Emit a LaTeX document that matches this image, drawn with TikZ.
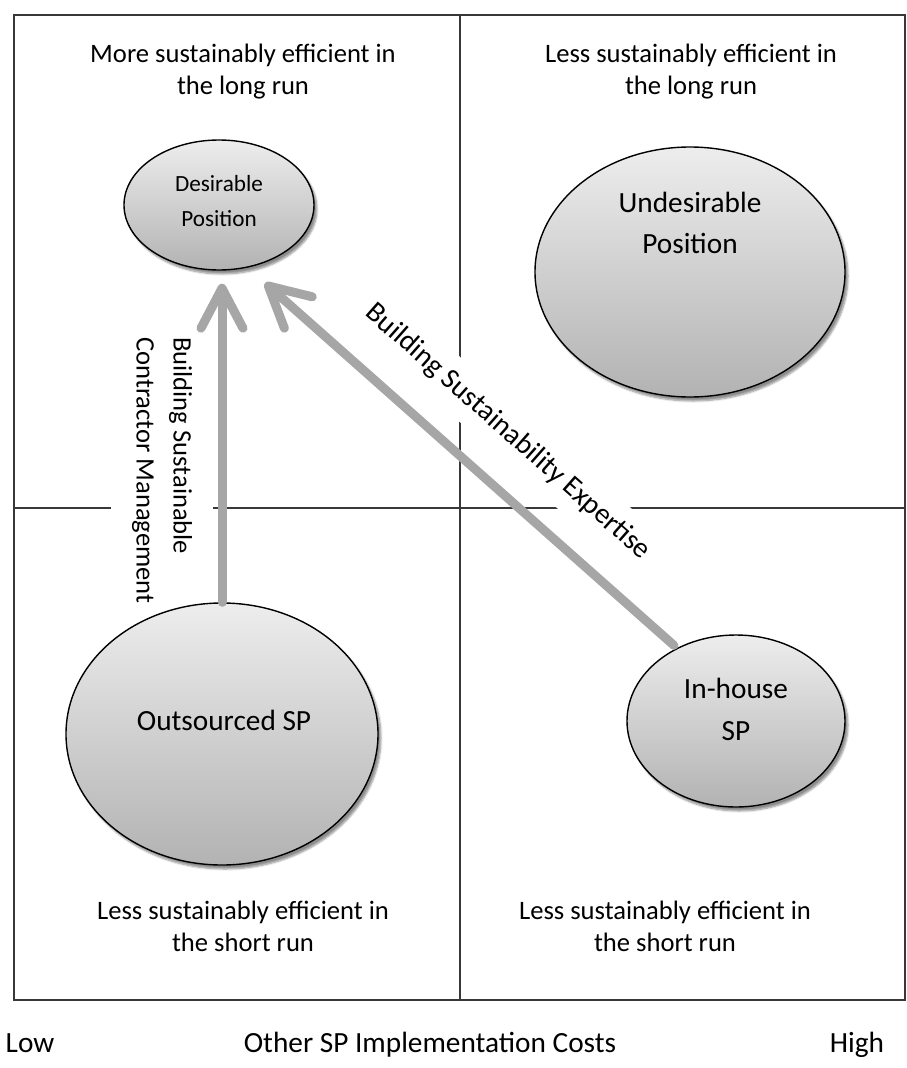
\documentclass[tikz,border=0pt]{standalone}
\usepackage{fontspec}
\setmainfont{Carlito}
\usetikzlibrary{arrows.meta,shapes.geometric,shadows.blur}
\begin{document}
\begin{tikzpicture}[x=1pt,y=-1pt,
  gridline/.style={draw=black!78, line width=1.3pt},
  quad/.style={align=center, font=\fontsize{26.6}{32}\selectfont, inner sep=0pt},
  oval/.style={ellipse, draw=black, line width=1.4pt, top color=black!7, bottom color=black!30,
    blur shadow={shadow xshift=3pt, shadow yshift=-4pt, shadow blur steps=6, shadow opacity=45}, inner sep=0pt},
  ovtext/.style={align=center, font=\fontsize{29.3}{41}\selectfont, inner sep=0pt},
  axis/.style={font=\fontsize{29.3}{34}\selectfont, inner sep=0pt, anchor=base},
  lbl/.style={fill=white, font=\fontsize{26.6}{37}\selectfont},
  bigarrow/.style={draw=black!35, line width=9pt, line cap=round,
    -{Straight Barb[length=40pt,width=42pt,round]}}]
\useasboundingbox (0,0) rectangle (907,1068);
% frame and quadrant lines
\draw[gridline] (14,15) rectangle (905,1000);
\draw[gridline] (460,15) -- (460,1000);
\draw[gridline] (14,508) -- (905,508);
% quadrant texts
\node[quad] (q1) at (243,72) {More sustainably efficient in\\the long run};
\node[quad] (q2) at (691,72) {Less sustainably efficient in\\the long run};
\node[quad] (q3) at (243,926) {Less sustainably efficient in\\the short run};
\node[quad] (q4) at (665,926) {Less sustainably efficient in\\the short run};
% arrow labels (white boxes hide the lines)
\node[lbl, rotate=-90, align=left, inner xsep=4pt, inner ysep=21pt, anchor=west] (vlabel) at (162,333) {Building Sustainable\\Contractor Management};
\node[lbl, align=center, rotate=-41.5, inner sep=12pt, font=\fontsize{28.8}{34}\selectfont] (dlabel) at (508,432) {Building Sustainability Expertise};
% ellipses
\node[oval, minimum width=190pt, minimum height=130pt] (des) at (219,205) {};
\node[oval, minimum width=310pt, minimum height=250pt] (und) at (690,272) {};
\node[oval, minimum width=312pt, minimum height=262pt] (out) at (222,734) {};
\node[oval, minimum width=218pt, minimum height=172pt] (inh) at (736,721) {};
\node[align=center, inner sep=0pt, font=\fontsize{23.2}{35}\selectfont] (destext) at (219,201) {Desirable\\Position};
\node[ovtext] (undtext) at (690,223) {Undesirable\\Position};
\node[ovtext] (outtext) at (224,720) {Outsourced SP};
\node[ovtext, font=\fontsize{29.3}{42}\selectfont] (inhtext) at (736,709) {In-house\\SP};
% arrows
\coordinate (dtip) at ([xshift=46pt,yshift=-78pt]des.center);
\draw[bigarrow, shorten >=13pt] (out.north) -- (out.north |- des.south);
\draw[bigarrow, shorten <=4pt] (inh.129) -- (dtip);
% axis
\node[axis] (low) at (30,1052) {Low};
\node[axis] (axtitle) at (430,1052) {Other SP Implementation Costs};
\node[axis] (high) at (857,1052) {High};
\end{tikzpicture}
\end{document}
